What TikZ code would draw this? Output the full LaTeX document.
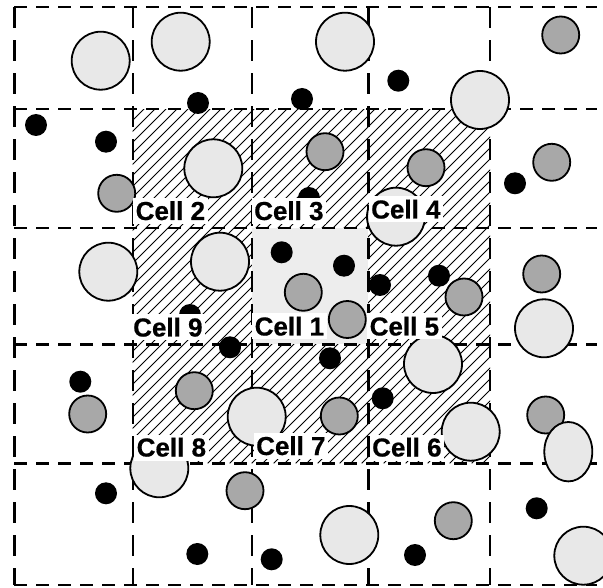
\documentclass[tikz,border=0pt]{standalone}
\usepackage{fontspec}
\setmainfont{Liberation Sans}
\newfontfamily\labelfont[FakeBold=0.6]{Liberation Sans Bold}
\definecolor{bigfill}{HTML}{E8E8E8}
\definecolor{midfill}{HTML}{A8A8A8}
\definecolor{centerfill}{HTML}{EDEDED}
\begin{document}
\begin{tikzpicture}[x=1pt,y=-1pt,
  gridh/.style={line width=2.4pt,dash pattern=on 13pt off 9pt},
  gridv/.style={line width=2.4pt,dash pattern=on 21pt off 12pt},
  hatchline/.style={line width=0.9pt},
  bigdisc/.style={draw=black,line width=1.8pt,fill=bigfill},
  middisc/.style={draw=black,line width=1.8pt,fill=midfill},
  smalldisc/.style={fill=black},
  celllabel/.style={anchor=base west,fill=white,inner xsep=2.5pt,inner ysep=3pt,
    font=\labelfont\fontsize{26}{26}\selectfont,text height=19pt,text depth=1pt}]
\useasboundingbox (0,0) rectangle (603,588);

% hatched 3x3 block around the centre cell
\begin{scope}
  \clip (132.7,109.3) rectangle (490,463.3);
  \foreach \k in {0,...,70}
    \draw[hatchline] ({-221.3+\k*11},463.3) -- ++(360,-360);
\end{scope}
% centre cell
\fill[centerfill] (251.7,228.3) rectangle (368.3,344.5);

% dashed grid
\foreach \y in {7.3,109.3,228.3,344.5,463.3,585}
  \draw[gridh] (14.3,\y) -- (597,\y);
\foreach \x in {14.3,132.7,251.7,368.3,490}
  \draw[gridv] (\x,7.3) -- (\x,585);

% small black particles
\foreach \p in {(198,103),(302,99),(398.3,80.7),(36,125),(106,141.7),(515,183.3),
  (309,198),(281.7,252.3),(344,265.7),(380,285),(439,275.7),(190,315),(230,347.3),
  (330,358.3),(80.3,381.7),(382.7,398.3),(106,493.3),(536.7,508.3),(197.3,554),
  (271.7,559.3),(415,555)}
  \fill[smalldisc] \p circle[radius=11pt];

% medium grey particles
\foreach \p in {(560.7,35),(116.7,193.3),(325,151.7),(426,167.7),(551.7,162.3),
  (303.3,292.3),(347.3,319.5),(464,297),(541.7,274),(87.7,414),(194.3,390.7),
  (339.3,416),(545.7,415),(245,490.7),(453.3,520.7)}
  \draw[middisc] \p circle[radius=18.5pt];

% large light particles
\foreach \p in {(100.7,60.7),(180.7,41.7),(345,41.7),(480,100),(213.3,168.3),
  (396,216.7),(108.3,271.7),(220,261.7),(544,328.3),(433,364),(256.7,416.7),
  (470.7,431.7),(159.3,468.3),(349.3,535),(583.3,555.7)}
  \draw[bigdisc] \p circle[radius=29pt];
\draw[bigdisc] (568.3,451.7) ellipse[x radius=24pt,y radius=29.7pt];

% cell labels
\node[celllabel] (c2) at (133,220) {Cell 2};
\node[celllabel] (c3) at (251.5,220) {Cell 3};
\node[celllabel] (c4) at (368.5,218.5) {Cell 4};
\node[celllabel] (c9) at (130.5,336.5) {Cell 9};
\node[celllabel] (c1) at (252,335.5) {Cell 1};
\node[celllabel] (c5) at (367,335.5) {Cell 5};
\node[celllabel] (c8) at (134,456.5) {Cell 8};
\node[celllabel] (c7) at (253.5,455) {Cell 7};
\node[celllabel] (c6) at (369.5,456.5) {Cell 6};
\end{tikzpicture}
\end{document}
